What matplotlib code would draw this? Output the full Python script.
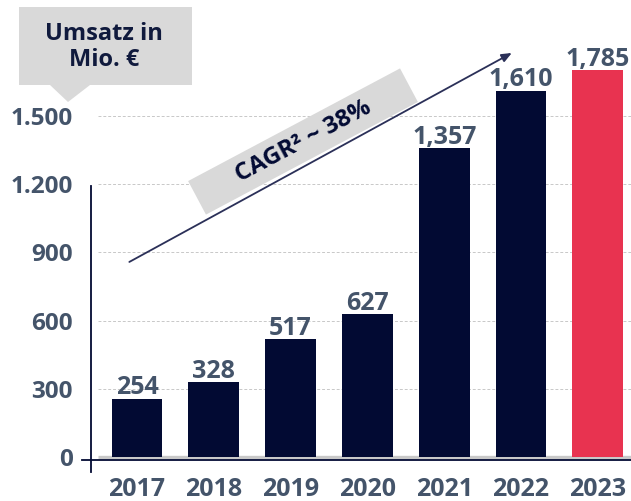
"""
Umsatz in Mio. EUR, 2017-2023 - Balkendiagramm mit CAGR-Pfeil.
Speichert out.png (631x501 px).
"""

import matplotlib
matplotlib.use("Agg")
import matplotlib.pyplot as plt
from matplotlib.patches import Rectangle, Polygon
from matplotlib.transforms import Affine2D

# --- 1. Daten ---
jahre = ["2017", "2018", "2019", "2020", "2021", "2022", "2023"]
umsatz = [254, 328, 517, 627, 1357, 1610, 1700]          # Balkenhoehe wie im Bild
umsatz_label = ["254", "328", "517", "627", "1,357", "1,610", "1,785"]
y_ticks = [0, 300, 600, 900, 1200, 1500]
y_tick_labels = ["0", "300", "600", "900", "1.200", "1.500"]
cagr_text = "CAGR² ~ 38%"
einheit_text = "Umsatz in\nMio. €"

# --- 2. Farben ---
NAVY = "#020a33"
ROT = "#e83350"
SLATE = "#44546a"
GRAU_BOX = "#d9d9d9"
PFEIL = "#2b3058"

plt.rcParams["font.family"] = ["Open Sans", "DejaVu Sans"]
plt.rcParams["font.weight"] = "bold"

W, H = 631, 501
fig = plt.figure(figsize=(W / 100, H / 100), dpi=100)


def fx(x):
    return x / W


def fy(y):
    return 1 - y / H


# Achse: links bei x=90.7 px, unten bei y=460 px, oben bei y=40 px
ax = fig.add_axes([fx(90.7), fy(460), 1 - fx(90.7), (460 - 40) / H])
ax.set_xlim(-0.603, 6.432)
ax.set_ylim(-13, 1834)
for s in ax.spines.values():
    s.set_visible(False)

x = list(range(len(jahre)))
farben = [NAVY] * (len(jahre) - 1) + [ROT]

# Gitterlinien (gestrichelt)
ax.hlines(y_ticks[1:], -0.508, 6.432, colors="#c8c8c8", linestyles=(0, (3, 2)),
          linewidth=0.7, zorder=0)
# graue Basislinie
ax.hlines(0, -0.508, 6.432, colors="#c9c9c9", linewidth=2.4, zorder=1)

ax.bar(x, umsatz, width=0.66, color=farben, zorder=2)

for xi, v, lab in zip(x, umsatz, umsatz_label):
    ax.annotate(lab, (xi, v), xytext=(0, 3.5), textcoords="offset points",
                ha="center", va="baseline", color=SLATE, fontsize=18,
                fontweight="bold")

# Achsenlinien (Kreuz am Ursprung)
ax.plot([-0.603, -0.603], [1190, -66], color=NAVY, lw=1.3, clip_on=False, zorder=3)
ax.plot([-0.72, 6.432], [-13, -13], color=NAVY, lw=1.3, clip_on=False, zorder=3)

ax.set_xticks(x, jahre)
ax.set_yticks(y_ticks, y_tick_labels)
ax.tick_params(axis="both", length=0, labelcolor=SLATE, labelsize=17.5)
ax.tick_params(axis="y", pad=13)
ax.tick_params(axis="x", pad=12, labelsize=18)
for t in ax.get_xticklabels() + ax.get_yticklabels():
    t.set_fontweight("bold")

# --- 3. CAGR-Pfeil ---
ax.annotate("", xy=(4.88, 1777), xytext=(-0.10, 858),
            arrowprops=dict(arrowstyle="-|>,head_length=0.6,head_width=0.25",
                            color=PFEIL, lw=1.3, shrinkA=0, shrinkB=0))

# graues, gedrehtes Feld (Pixel-Koordinaten, y nach oben)
cx, cy, ang = 303, H - 141.5, 28
box = Rectangle((-120, -19), 240, 38, facecolor=GRAU_BOX, edgecolor="none",
                transform=Affine2D().rotate_deg(ang).translate(cx, cy))
fig.add_artist(box)
fig.text(fx(303), fy(141.5), cagr_text, rotation=ang, rotation_mode="anchor",
         ha="center", va="center", color=NAVY, fontsize=17.5, fontweight="bold")

# --- 4. Einheiten-Callout ---
callout = Polygon([(fx(19), fy(7)), (fx(192), fy(7)), (fx(192), fy(85)),
                   (fx(90), fy(85)), (fx(68), fy(102)), (fx(50), fy(85)),
                   (fx(19), fy(85))], closed=True, facecolor=GRAU_BOX,
                  edgecolor="none", transform=fig.transFigure)
fig.add_artist(callout)
fig.text(fx(104), fy(47), einheit_text, ha="center", va="center",
         color="#101a3d", fontsize=17, fontweight="bold", linespacing=1.15)

fig.savefig("out.png", dpi=100)
